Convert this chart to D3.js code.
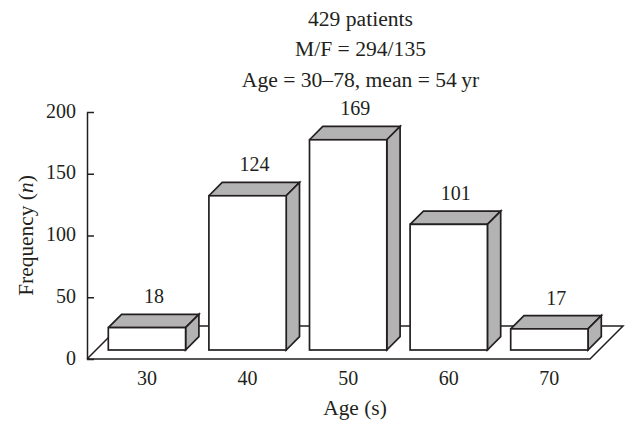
<!DOCTYPE html>
<html>
<head>
<meta charset="utf-8">
<script src="https://cdn.jsdelivr.net/npm/d3@7"></script>
<style>
	html, body { margin: 0; padding: 0; background: #fff; }
	svg { display: block; }
	text { font-family: "Liberation Serif", serif; fill: #231f20; }
</style>
</head>
<body>
<script>
const ageGroups = ['30', '40', '50', '60', '70'];
const frequencies = [18, 124, 169, 101, 17];
const yTicks = [0, 50, 100, 150, 200];
const titleLines = ['429 patients', 'M/F = 294/135', 'Age = 30–78, mean = 54\u2009yr'];

const width = 637
const height = 434
const depth = 13.3
const ink = '#231f20'
const sideGrey = '#b3b3b3'
const numberSize = 20
const wordSize = 21.4

const svg = d3.select('body').append('svg')
	.attr('width', width)
	.attr('height', height);

const x = d3.scaleBand()
	.domain(ageGroups)
	.range([108.3, 588])
	.paddingInner(0.2316);

// axis runs on the front of the floor, bars stand a bit further in
const yAxisScale = d3.scaleLinear().domain([0, 200]).range([359, 112]);
const yBar = d3.scaleLinear().domain([0, 200]).range([350, 101.2]);

// floor
const floorLeft = yAxisScale.range()[0]
const floorBack = floorLeft - 33
svg.append('path')
	.attr('d', d3.line()([[87, floorLeft], [590, floorLeft], [623, floorBack], [120, floorBack], [87, floorLeft]]))
	.attr('fill', '#fff')
	.attr('stroke', ink)
	.attr('stroke-width', 1.5)
	.attr('stroke-linejoin', 'miter');

// bars
const bars = svg.selectAll('g.bar')
	.data(ageGroups.map((a, i) => ({age: a, n: frequencies[i]})))
	.enter().append('g')
	.attr('class', 'bar')
	.attr('stroke', ink)
	.attr('stroke-width', 1.7)
	.attr('stroke-linejoin', 'miter');

bars.append('path')
	.attr('fill', sideGrey)
	.attr('d', function(d) {
		const x0 = x(d.age), x1 = x0 + x.bandwidth(), yt = yBar(d.n);
		return d3.line()([[x0, yt], [x0 + depth, yt - depth], [x1 + depth, yt - depth], [x1, yt], [x0, yt]]);
	});

bars.append('path')
	.attr('fill', sideGrey)
	.attr('d', function(d) {
		const x1 = x(d.age) + x.bandwidth(), yt = yBar(d.n), yb = yBar(0);
		return d3.line()([[x1, yt], [x1 + depth, yt - depth], [x1 + depth, yb - depth], [x1, yb], [x1, yt]]);
	});

bars.append('rect')
	.attr('fill', '#fff')
	.attr('x', d => x(d.age))
	.attr('y', d => yBar(d.n))
	.attr('width', x.bandwidth())
	.attr('height', d => yBar(0) - yBar(d.n));

bars.append('text')
	.attr('stroke', 'none')
	.attr('x', d => x(d.age) + x.bandwidth() / 2 + 7)
	.attr('y', d => yBar(d.n) - depth - 11)
	.attr('text-anchor', 'middle')
	.style('font-size', numberSize + 'px')
	.text(d => d.n);

// axes
const yAxis = d3.axisLeft(yAxisScale)
	.tickValues(yTicks)
	.tickSizeInner(-7)
	.tickSizeOuter(0)
	.tickPadding(11);

const yG = svg.append('g')
	.attr('transform', 'translate(87,0)')
	.call(yAxis);
yG.selectAll('path, line').attr('stroke', ink).attr('stroke-width', 1.5);
yG.selectAll('text')
	.attr('dy', '0.26em')
	.style('font-size', numberSize + 'px')
	.style('font-family', '"Liberation Serif", serif');

const xAxis = d3.axisBottom(x)
	.tickSize(0)
	.tickPadding(12);

const xG = svg.append('g')
	.attr('transform', 'translate(0,' + floorLeft + ')')
	.call(xAxis);
xG.select('.domain').remove();
xG.selectAll('text').style('font-size', numberSize + 'px').style('font-family', '"Liberation Serif", serif');

// labels
svg.append('text')
	.attr('x', 355)
	.attr('y', 415)
	.attr('text-anchor', 'middle')
	.style('font-size', wordSize + 'px')
	.text('Age (s)');

const yLabel = svg.append('text')
	.attr('transform', 'translate(33,235.5) rotate(-90)')
	.attr('text-anchor', 'middle')
	.style('font-size', wordSize + 'px');
yLabel.append('tspan').text('Frequency (');
yLabel.append('tspan').style('font-style', 'italic').text('n');
yLabel.append('tspan').text(')');

svg.selectAll('text.title')
	.data(titleLines)
	.enter().append('text')
	.attr('class', 'title')
	.attr('x', 360.5)
	.attr('y', (d, i) => 26 + i * 30.3)
	.attr('text-anchor', 'middle')
	.style('font-size', '21.6px')
	.text(d => d);
</script>
</body>
</html>
